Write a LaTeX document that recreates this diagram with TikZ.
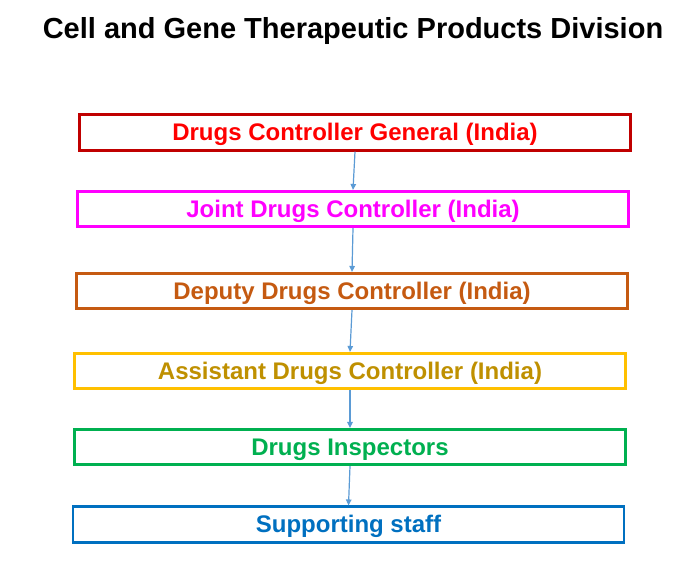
\documentclass[tikz,border=0pt]{standalone}
\usepackage{fontspec}
\setmainfont{Liberation Sans}
\usetikzlibrary{arrows.meta}
\definecolor{cA}{HTML}{C00000}
\definecolor{cAt}{HTML}{FF0000}
\definecolor{cB}{HTML}{FF00FF}
\definecolor{cC}{HTML}{C55A11}
\definecolor{cD}{HTML}{FFC000}
\definecolor{cDt}{HTML}{BF9000}
\definecolor{cE}{HTML}{00B050}
\definecolor{cF}{HTML}{0070C0}
\definecolor{arr}{HTML}{5B9BD5}
\tikzset{
  rankbox/.style={draw, rectangle, line width=2.6pt, minimum width=551pt, minimum height=35.5pt, inner sep=0pt, text height=16.5pt, text depth=0pt, font=\fontsize{24}{28}\selectfont\bfseries, fill=white},
  link/.style={draw=arr, line width=1.2pt, -{Triangle[length=6pt,width=5.5pt]}}
}
\begin{document}
\begin{tikzpicture}[x=1pt,y=1pt]
\useasboundingbox (0,0) rectangle (691,-570);
\fill[white] (0,0) rectangle (691,-570);
\node[anchor=base, font=\fontsize{29}{34}\selectfont\bfseries] (title) at (353,-38) {Cell and Gene Therapeutic Products Division};
\node[rankbox, draw=cA, text=cAt] (b1) at (355,-132.5) {Drugs Controller General (India)};
\node[rankbox, draw=cB, text=cB] (b2) at (353,-209) {Joint Drugs Controller (India)};
\node[rankbox, draw=cC, text=cC] (b3) at (352,-291) {Deputy Drugs Controller (India)};
\node[rankbox, draw=cD, text=cDt] (b4) at (350,-371) {Assistant Drugs Controller (India)};
\node[rankbox, draw=cE, text=cE] (b5) at (350,-447) {Drugs Inspectors};
\node[rankbox, draw=cF, text=cF] (b6) at (348.5,-524.5) {Supporting staff};
\draw[link] (b1.south) -- (b2.north);
\draw[link] (b2.south) -- (b3.north);
\draw[link] (b3.south) -- (b4.north);
\draw[link] (b4.south) -- (b5.north);
\draw[link] (b5.south) -- (b6.north);
\end{tikzpicture}
\end{document}
